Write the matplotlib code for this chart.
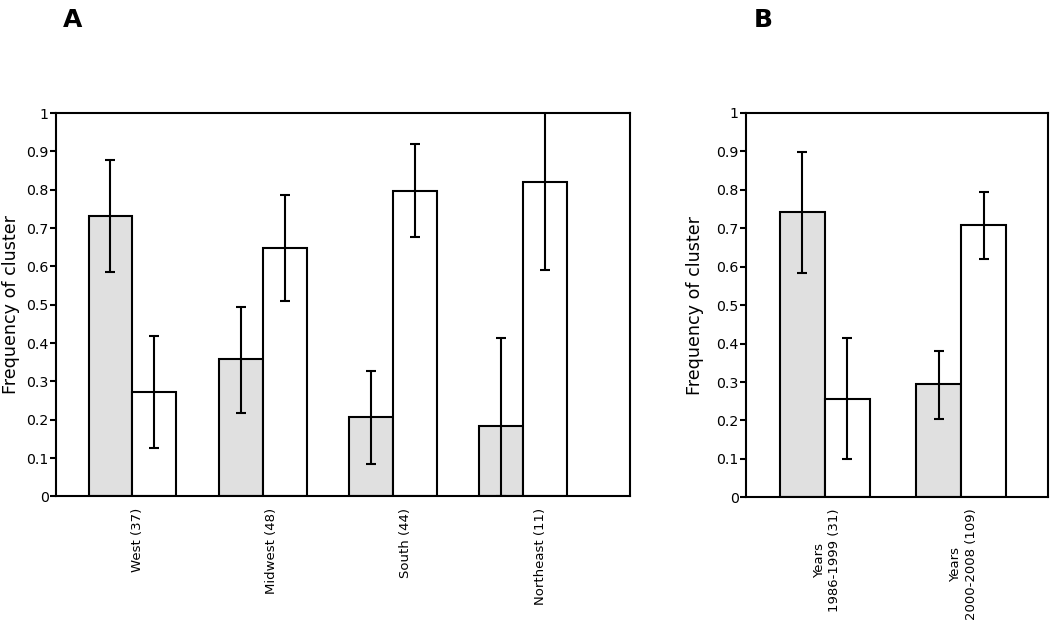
import numpy as np
import matplotlib
matplotlib.use("Agg")
import matplotlib.pyplot as plt

# Panel A data
regions = ["West (37)", "Midwest (48)", "South (44)", "Northeast (11)"]
a_gray = [0.731, 0.358, 0.207, 0.184]
a_gray_lo = [0.585, 0.218, 0.085, 0.0]
a_gray_hi = [0.877, 0.494, 0.327, 0.413]
a_white = [0.272, 0.649, 0.797, 0.821]
a_white_lo = [0.126, 0.509, 0.677, 0.590]
a_white_hi = [0.418, 0.785, 0.920, 1.05]

# Panel B data
periods = ["Years\n1986-1999 (31)", "Years\n2000-2008 (109)"]
b_gray = [0.742, 0.294]
b_gray_lo = [0.584, 0.205]
b_gray_hi = [0.899, 0.380]
b_white = [0.256, 0.707]
b_white_lo = [0.100, 0.619]
b_white_hi = [0.415, 0.794]

yticks = [0, 0.1, 0.2, 0.3, 0.4, 0.5, 0.6, 0.7, 0.8, 0.9, 1]
ytick_labels = ["0", "0.1", "0.2", "0.3", "0.4", "0.5", "0.6", "0.7", "0.8", "0.9", "1"]

GRAY = "#e0e0e0"
LW = 1.5

fig = plt.figure(figsize=(10.5, 6.21), dpi=100)
axA = fig.add_axes([0.0533, 0.2005, 0.5467, 0.6175])
axB = fig.add_axes([0.7105, 0.199, 0.2875, 0.6195])


def draw(ax, labels, g, glo, ghi, w, wlo, whi, width, xlim, label_shift, ylabelpad):
    x = np.arange(len(labels))
    g = np.array(g); w = np.array(w)
    ax.bar(x - width / 2, g, width, color=GRAY, edgecolor="black", linewidth=LW, zorder=2)
    ax.bar(x + width / 2, w, width, color="white", edgecolor="black", linewidth=LW, zorder=2)
    ax.errorbar(x - width / 2, g, yerr=[g - np.array(glo), np.array(ghi) - g], fmt="none",
                ecolor="black", elinewidth=LW, capsize=3.6, capthick=LW, zorder=3)
    ax.errorbar(x + width / 2, w, yerr=[w - np.array(wlo), np.array(whi) - w], fmt="none",
                ecolor="black", elinewidth=LW, capsize=3.6, capthick=LW, zorder=3)
    ax.set_xlim(*xlim)
    ax.set_ylim(0, 1)
    ax.set_yticks(yticks)
    ax.set_yticklabels(ytick_labels, fontsize=10.2)
    ax.set_xticks(x * label_shift[0] + label_shift[1])
    ax.set_xticklabels(labels, rotation=90, fontsize=9.5, linespacing=1.25)
    ax.tick_params(axis="x", length=0, pad=8)
    ax.tick_params(axis="y", length=4.3, width=LW, direction="out", pad=1)
    for s in ax.spines.values():
        s.set_linewidth(LW)
    ax.set_ylabel("Frequency of cluster", fontsize=12.6, labelpad=ylabelpad)


draw(axA, regions, a_gray, a_gray_lo, a_gray_hi, a_white, a_white_lo, a_white_hi,
     0.337, (-0.587, 3.82), (1.03, 0.04), 4.5)
draw(axB, periods, b_gray, b_gray_lo, b_gray_hi, b_white, b_white_lo, b_white_hi,
     0.33, (-0.578, 1.634), (1.0, 0.015), 8.5)

fig.text(0.0595, 0.968, "A", fontsize=18, fontweight="bold", ha="left", va="center")
fig.text(0.718, 0.968, "B", fontsize=18, fontweight="bold", ha="left", va="center")

fig.savefig("out.png", dpi=100)
